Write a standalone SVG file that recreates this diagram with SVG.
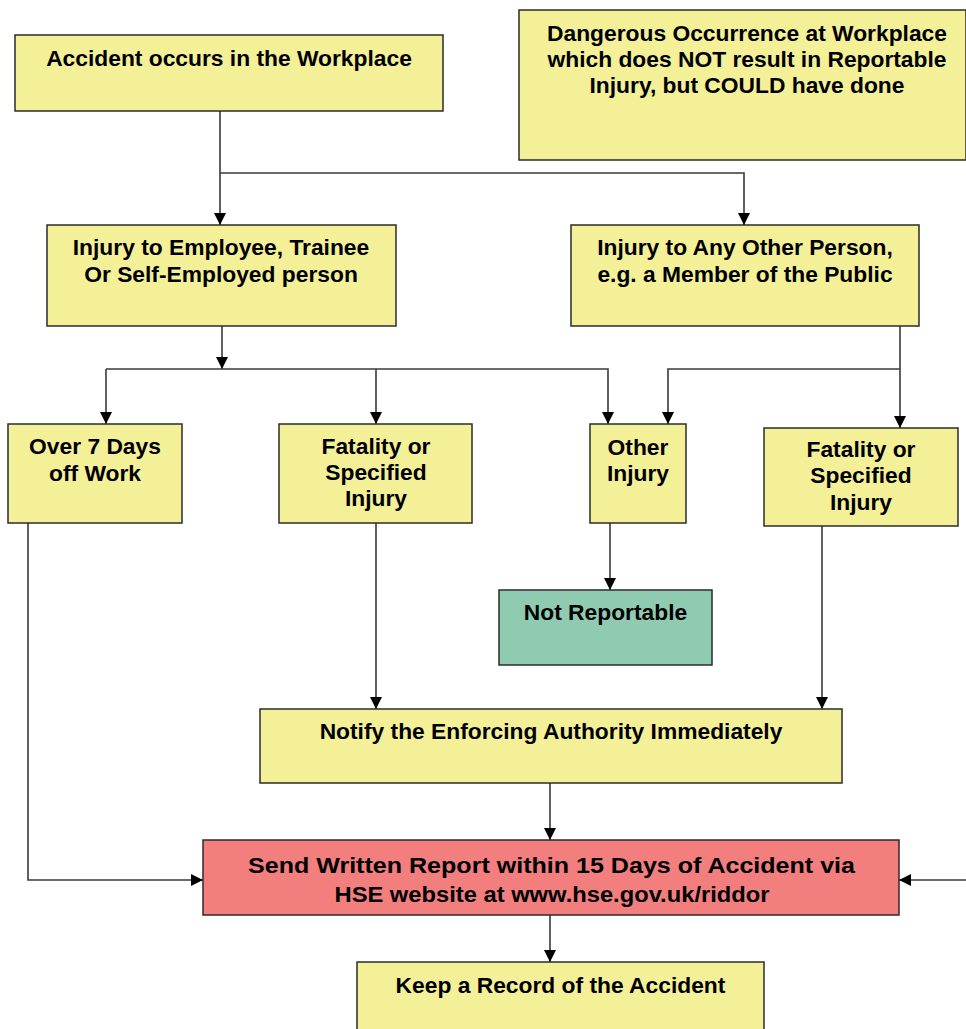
<svg xmlns="http://www.w3.org/2000/svg" width="966" height="1029" viewBox="0 0 966 1029">
<defs>
<marker id="arr" viewBox="0 0 12 12" refX="12" refY="6" markerWidth="12" markerHeight="12" markerUnits="userSpaceOnUse" orient="auto">
<path d="M0,0 L12,6 L0,12 z" fill="#000"/>
</marker>
<style>
.box{fill:#f4f098;stroke:#2b2b2b;stroke-width:1.5}
.green{fill:#8fcbb0}
.red{fill:#f27e7e}
text{font-family:"Liberation Sans",Arial,Helvetica,sans-serif;font-weight:bold;font-size:22.8px;fill:#000;text-anchor:middle}
.ln{fill:none;stroke:#3a3a3a;stroke-width:1.6}
.ar{marker-end:url(#arr)}
</style>
</defs>
<rect width="966" height="1029" fill="#fff"/>
<g id="connectors">
<path class="ln ar" d="M220,111 V225"/>
<path class="ln ar" d="M220,173 H744 V225"/>
<path class="ln ar" d="M222,326 V369"/>
<path class="ln ar" d="M106,369 H608 V424"/>
<path class="ln ar" d="M106,369 V424"/>
<path class="ln ar" d="M376,369 V424"/>
<path class="ln ar" d="M900,326 V428"/>
<path class="ln ar" d="M900,369 H668 V424"/>
<path class="ln ar" d="M610,523 V590"/>
<path class="ln ar" d="M376,523 V709"/>
<path class="ln ar" d="M822,526 V709"/>
<path class="ln ar" d="M28,523 V880 H203"/>
<path class="ln ar" d="M550,783 V840"/>
<path class="ln ar" d="M966,880 H899"/>
<path class="ln ar" d="M550,915 V962"/>
</g>
<g id="accident">
<rect class="box" x="15" y="35" width="428" height="76"/>
<text x="229" y="66">Accident occurs in the Workplace</text>
</g>
<g id="dangerous">
<rect class="box" x="519" y="10" width="447" height="150"/>
<text x="747" y="41">Dangerous Occurrence at Workplace</text>
<text x="747" y="67">which does NOT result in Reportable</text>
<text x="747" y="93">Injury, but COULD have done</text>
</g>
<g id="employee">
<rect class="box" x="47" y="225" width="349" height="101"/>
<text x="221" y="255">Injury to Employee, Trainee</text>
<text x="221" y="282">Or Self-Employed person</text>
</g>
<g id="otherperson">
<rect class="box" x="571" y="225" width="348" height="101"/>
<text x="745" y="255">Injury to Any Other Person,</text>
<text x="745" y="282">e.g. a Member of the Public</text>
</g>
<g id="over7">
<rect class="box" x="8" y="424" width="174" height="99"/>
<text x="95" y="454">Over 7 Days</text>
<text x="95" y="481">off Work</text>
</g>
<g id="fatality-left">
<rect class="box" x="279" y="424" width="193" height="99"/>
<text x="376" y="454">Fatality or</text>
<text x="376" y="480">Specified</text>
<text x="376" y="506">Injury</text>
</g>
<g id="other-injury">
<rect class="box" x="590" y="424" width="96" height="99"/>
<text x="638" y="455">Other</text>
<text x="638" y="481">Injury</text>
</g>
<g id="fatality-right">
<rect class="box" x="764" y="428" width="194" height="98"/>
<text x="861" y="457">Fatality or</text>
<text x="861" y="483">Specified</text>
<text x="861" y="510">Injury</text>
</g>
<g id="not-reportable">
<rect class="box green" x="499" y="590" width="213" height="75"/>
<text x="605.5" y="620">Not Reportable</text>
</g>
<g id="notify">
<rect class="box" x="260" y="709" width="582" height="74"/>
<text x="551" y="739">Notify the Enforcing Authority Immediately</text>
</g>
<g id="send-report">
<rect class="box red" x="203" y="840" width="696" height="75"/>
<text x="551.5" y="873" textLength="607" lengthAdjust="spacingAndGlyphs">Send Written Report within 15 Days of Accident via</text>
<text x="552" y="902" textLength="435" lengthAdjust="spacingAndGlyphs">HSE website at www.hse.gov.uk/riddor</text>
</g>
<g id="keep-record">
<rect class="box" x="357" y="962" width="407" height="80"/>
<text x="560.5" y="993">Keep a Record of the Accident</text>
</g>
</svg>
